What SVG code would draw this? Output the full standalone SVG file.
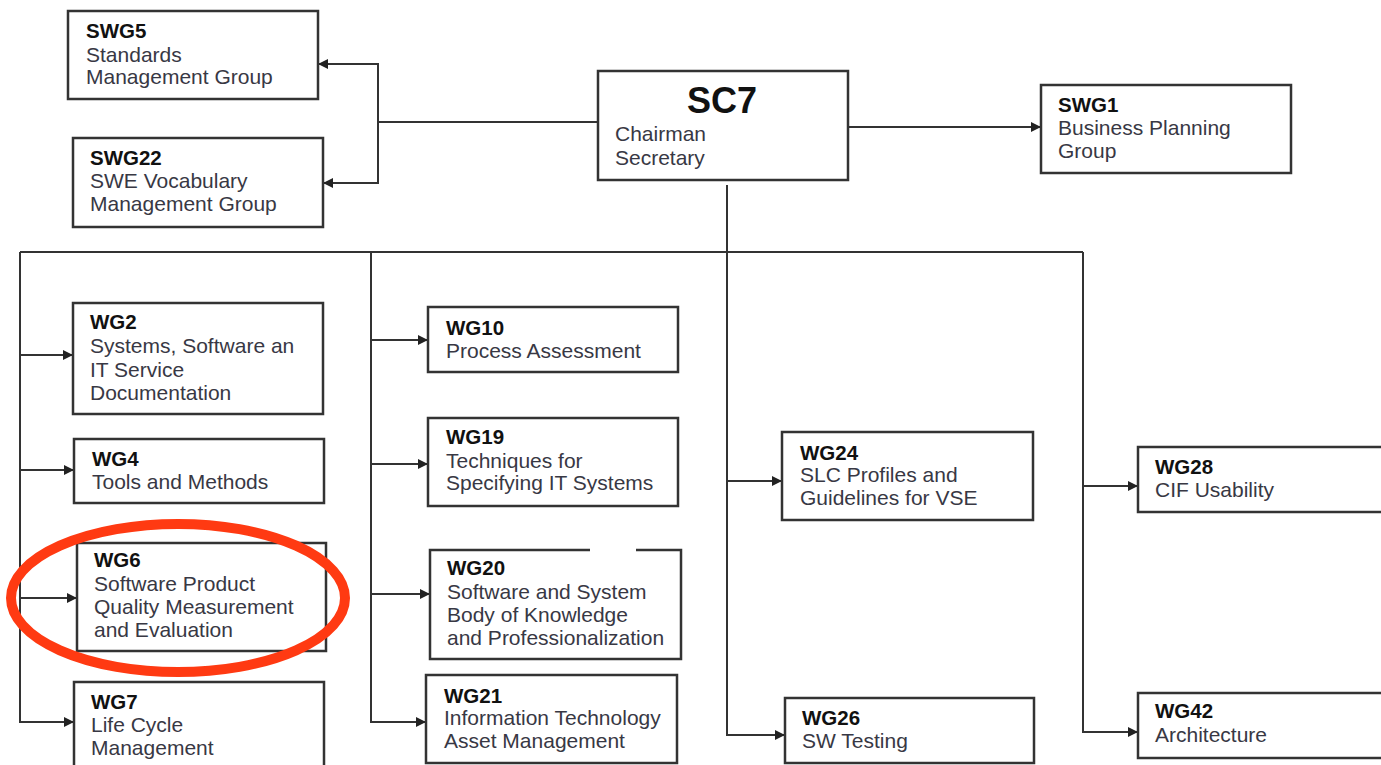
<svg xmlns="http://www.w3.org/2000/svg" width="1381" height="765" viewBox="0 0 1381 765">
<defs>
<marker id="arr" viewBox="0 0 10 10" refX="10" refY="5" markerWidth="10" markerHeight="10" markerUnits="userSpaceOnUse" orient="auto">
<path d="M0,0 L10,5 L0,10 z" fill="#222"/>
</marker>
<style>
.box{fill:#fff;stroke:#333;stroke-width:2.5}
.t{font-family:"Liberation Sans",Arial,sans-serif;font-size:20.5px;font-weight:bold;fill:#111}
.d{font-family:"Liberation Sans",Arial,sans-serif;font-size:21px;fill:#383844}
.c{fill:none;stroke:#333;stroke-width:2}
.a{fill:none;stroke:#333;stroke-width:2;marker-end:url(#arr)}
</style>
</defs>
<rect width="1381" height="765" fill="#fff"/>
<g id="connectors">
<path class="c" d="M598,122 H378"/>
<path class="a" d="M378,122 V64 H318"/>
<path class="a" d="M378,122 V183 H323"/>
<path class="a" d="M848,127 H1041"/>
<path class="c" d="M20,252 H1083"/>
<path class="a" d="M20,252 V722 H74"/>
<path class="a" d="M20,355 H73"/>
<path class="a" d="M20,470 H74"/>
<path class="a" d="M20,598 H77"/>
<path class="a" d="M371,252 V722 H426"/>
<path class="a" d="M371,340 H428"/>
<path class="a" d="M371,464 H428"/>
<path class="a" d="M371,594 H430"/>
<path class="a" d="M727,185 V735 H785"/>
<path class="a" d="M727,481 H782"/>
<path class="a" d="M1083,252 V732 H1138"/>
<path class="a" d="M1083,486 H1138"/>
</g>
<g id="SWG5"><rect class="box" x="68" y="11" width="250" height="88"/>
<text class="t" x="86" y="38">SWG5</text><text class="d" x="86" y="62">Standards</text><text class="d" x="86" y="84">Management Group</text></g>
<g id="SWG22"><rect class="box" x="73" y="138" width="250" height="89"/>
<text class="t" x="90" y="165">SWG22</text><text class="d" x="90" y="188">SWE Vocabulary</text><text class="d" x="90" y="211">Management Group</text></g>
<g id="SC7"><rect class="box" x="598" y="71" width="250" height="109"/>
<text class="t" x="722" y="113" text-anchor="middle" style="font-size:36px">SC7</text><text class="d" x="615" y="141">Chairman</text><text class="d" x="615" y="165">Secretary</text></g>
<g id="SWG1"><rect class="box" x="1041" y="85" width="250" height="88"/>
<text class="t" x="1058" y="112">SWG1</text><text class="d" x="1058" y="135">Business Planning</text><text class="d" x="1058" y="158">Group</text></g>
<g id="WG2"><rect class="box" x="73" y="303" width="250" height="111"/>
<text class="t" x="90" y="329">WG2</text><text class="d" x="90" y="353">Systems, Software an</text><text class="d" x="90" y="377">IT Service</text><text class="d" x="90" y="400">Documentation</text></g>
<g id="WG4"><rect class="box" x="74" y="439" width="250" height="64"/>
<text class="t" x="92" y="466">WG4</text><text class="d" x="92" y="489">Tools and Methods</text></g>
<g id="WG6"><rect class="box" x="77" y="543" width="249" height="108"/>
<text class="t" x="94" y="567">WG6</text><text class="d" x="94" y="591">Software Product</text><text class="d" x="94" y="614">Quality Measurement</text><text class="d" x="94" y="637">and Evaluation</text></g>
<g id="WG7"><rect class="box" x="74" y="682" width="250" height="100"/>
<text class="t" x="91" y="709">WG7</text><text class="d" x="91" y="732">Life Cycle</text><text class="d" x="91" y="755">Management</text></g>
<g id="WG10"><rect class="box" x="428" y="307" width="250" height="65"/>
<text class="t" x="446" y="335">WG10</text><text class="d" x="446" y="358">Process Assessment</text></g>
<g id="WG19"><rect class="box" x="428" y="418" width="250" height="88"/>
<text class="t" x="446" y="444">WG19</text><text class="d" x="446" y="468">Techniques for</text><text class="d" x="446" y="490">Specifying IT Systems</text></g>
<g id="WG20"><rect class="box" x="430" y="550" width="251" height="109"/>
<rect x="590" y="545" width="46" height="8" fill="#fff"/>
<text class="t" x="447" y="575">WG20</text><text class="d" x="447" y="599">Software and System</text><text class="d" x="447" y="622">Body of Knowledge</text><text class="d" x="447" y="645">and Professionalization</text></g>
<g id="WG21"><rect class="box" x="426" y="675" width="251" height="88"/>
<text class="t" x="444" y="703">WG21</text><text class="d" x="444" y="725">Information Technology</text><text class="d" x="444" y="748">Asset Management</text></g>
<g id="WG24"><rect class="box" x="782" y="432" width="251" height="88"/>
<text class="t" x="800" y="460">WG24</text><text class="d" x="800" y="482">SLC Profiles and</text><text class="d" x="800" y="505">Guidelines for VSE</text></g>
<g id="WG26"><rect class="box" x="785" y="698" width="249" height="65"/>
<text class="t" x="802" y="725">WG26</text><text class="d" x="802" y="748">SW Testing</text></g>
<g id="WG28"><rect class="box" x="1138" y="447" width="270" height="65"/>
<text class="t" x="1155" y="474">WG28</text><text class="d" x="1155" y="497">CIF Usability</text></g>
<g id="WG42"><rect class="box" x="1138" y="693" width="270" height="65"/>
<text class="t" x="1155" y="718">WG42</text><text class="d" x="1155" y="742">Architecture</text></g>
<ellipse id="highlight" cx="178" cy="598" rx="167" ry="74" fill="none" stroke="#ff3a12" stroke-width="10"/>
</svg>
